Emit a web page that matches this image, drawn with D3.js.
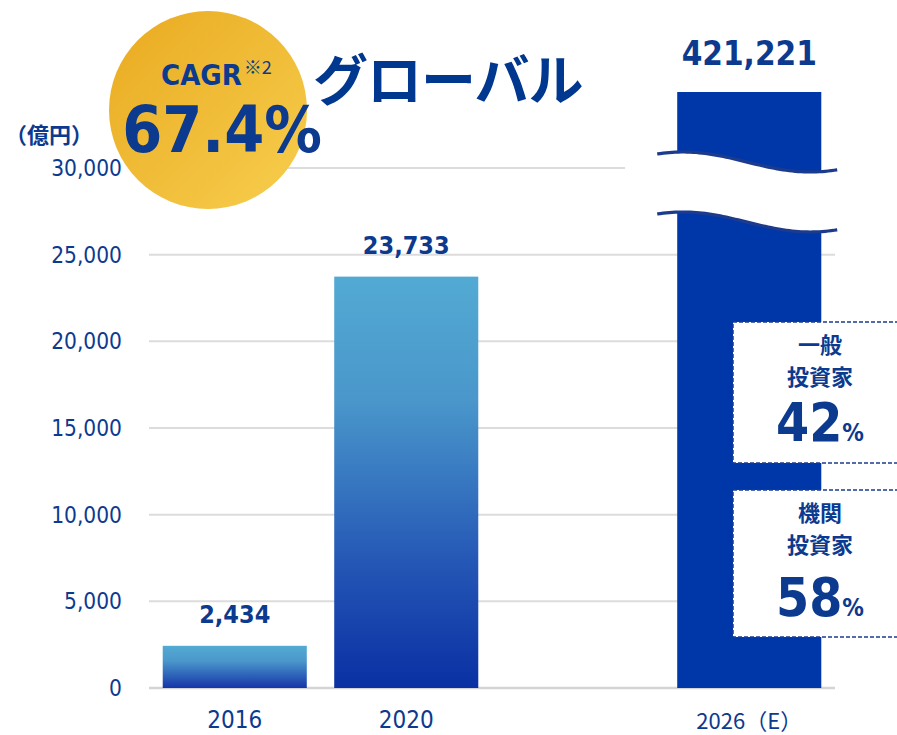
<!DOCTYPE html>
<html><head><meta charset="utf-8">
<script src="https://cdn.jsdelivr.net/npm/d3@7"></script>
<style>
html,body{margin:0;padding:0;background:#fff;}
svg{display:block;}
.num{font-family:"DejaVu Sans Condensed","DejaVu Sans",sans-serif;font-stretch:condensed;}
.jp{font-family:"Noto Sans CJK JP",sans-serif;}
</style></head>
<body>
<script>
// ---- data ----
const categories = ["2016", "2020", "", "2026（E）"];
const values = [2434, 23733, null, 421221];
const valueLabels = ["2,434", "23,733", "", "421,221"];
const yTicks = [0, 5000, 10000, 15000, 20000, 25000, 30000];
const yTickLabels = ["0", "5,000", "10,000", "15,000", "20,000", "25,000", "30,000"];
const shareLabels = [["一般", "投資家"], ["機関", "投資家"]];
const shareValues = [42, 58];
const title = "グローバル";
const cagrValue = "67.4%";
const unitLabel = "（億円）";

const W = 897, H = 735;
const navy = "#0b3a8f";
const svg = d3.select("body").append("svg").attr("width", W).attr("height", H);
const defs = svg.append("defs");

// scales
const x = d3.scaleBand().domain(categories).range([149, 835]).paddingInner(0.16).paddingOuter(0.08);
// broken axis: linear up to 30,000, compressed above the break
const y = d3.scaleLinear().domain([0, 30000, 421221]).range([688, 168, 92]);

// gradients
const g1 = defs.append("linearGradient").attr("id", "gSmall").attr("x1", 0).attr("y1", 0).attr("x2", 0).attr("y2", 1);
g1.append("stop").attr("offset", "0%").attr("stop-color", "#53aad3");
g1.append("stop").attr("offset", "35%").attr("stop-color", "#4b98cb");
g1.append("stop").attr("offset", "100%").attr("stop-color", "#1535a8");
const g2 = defs.append("linearGradient").attr("id", "gMid").attr("x1", 0).attr("y1", 0).attr("x2", 0).attr("y2", 1);
g2.append("stop").attr("offset", "0%").attr("stop-color", "#52aad3");
g2.append("stop").attr("offset", "30%").attr("stop-color", "#4a97cb");
g2.append("stop").attr("offset", "70%").attr("stop-color", "#2456b5");
g2.append("stop").attr("offset", "100%").attr("stop-color", "#0a30a3");
const gc = defs.append("linearGradient").attr("id", "gCircle").attr("x1", 0).attr("y1", 0).attr("x2", 1).attr("y2", 1);
gc.append("stop").attr("offset", "0%").attr("stop-color", "#e9aa20");
gc.append("stop").attr("offset", "100%").attr("stop-color", "#f7ce4e");

// gridlines
svg.append("g").selectAll("line").data(yTicks).join("line")
  .attr("x1", 149)
  .attr("x2", d => d === 30000 ? 625 : 835)
  .attr("y1", d => y(d)).attr("y2", d => y(d))
  .attr("stroke", d => d === 0 ? "#d4d4d4" : "#dcdcdc")
  .attr("stroke-width", d => d === 0 ? 2.5 : 2);

// y tick labels
svg.append("g").selectAll("text").data(yTicks).join("text")
  .attr("class", "num")
  .attr("x", 122).attr("y", d => y(d)).attr("dy", "0.35em")
  .attr("text-anchor", "end").attr("font-size", 22.5).attr("fill", navy)
  .text((d, i) => yTickLabels[i]);

// bars
const fills = ["url(#gSmall)", "url(#gMid)", "none", "#0037a8"];
svg.append("g").selectAll("rect").data(values.map((v, i) => ({v, i})).filter(d => d.v !== null)).join("rect")
  .attr("x", d => x(categories[d.i]))
  .attr("width", x.bandwidth())
  .attr("y", d => y(d.v))
  .attr("height", d => y(0) - y(d.v))
  .attr("fill", d => fills[d.i]);

// break on the 2026 bar
const bx = x(categories[3]);
const bx0 = bx - 20, bx1 = bx + x.bandwidth() + 17;
function wavePts(yc) {
  const pts = [];
  for (let px = bx0; px <= bx1 + 0.01; px += 3) {
    pts.push([px, yc - 10 * Math.cos(2 * Math.PI * (px - (bx + 6)) / 254)]);
  }
  return pts;
}
const topW = wavePts(162), botW = wavePts(222);
const line = d3.line().curve(d3.curveBasis);
svg.append("path")
  .attr("d", "M" + topW.map(p => p.join(",")).join("L") + "L" + botW.slice().reverse().map(p => p.join(",")).join("L") + "Z")
  .attr("fill", "#fff");
[topW, botW].forEach(w => svg.append("path").attr("d", line(w))
  .attr("fill", "none").attr("stroke", "#1c3b8d").attr("stroke-width", 3.2));

// value labels
svg.append("g").selectAll("text").data(values.map((v, i) => ({v, i})).filter(d => d.v !== null)).join("text")
  .attr("class", "num")
  .attr("x", d => x(categories[d.i]) + x.bandwidth() / 2)
  .attr("y", d => d.i === 3 ? 65 : y(d.v) - 23)
  .attr("text-anchor", "middle").attr("font-weight", "bold")
  .attr("font-size", d => d.i === 3 ? 33 : 25).attr("fill", navy)
  .text(d => valueLabels[d.i]);

// x labels
svg.append("g").selectAll("text").data(categories.filter(c => c !== "")).join("text")
  .attr("x", d => x(d) + x.bandwidth() / 2)
  .attr("y", d => d.startsWith("2026") ? 729 : 728)
  .attr("text-anchor", "middle").attr("font-size", d => d.startsWith("2026") ? 22 : 24).attr("fill", navy)
  .attr("class", d => d.startsWith("2026") ? "jp" : "num")
  .text(d => d);

// share boxes
const boxes = [{y0: 322, y1: 463}, {y0: 490, y1: 637}];
boxes.forEach((b, i) => {
  svg.append("rect").attr("x", 733).attr("y", b.y0).attr("width", 180).attr("height", b.y1 - b.y0)
    .attr("fill", "#fff").attr("stroke", "#1c3b8d").attr("stroke-width", 1.5)
    .attr("stroke-dasharray", "4,2");
  const cx = 820;
  const lbl = shareLabels[i];
  const ly = i === 0 ? [353, 385] : [521, 553];
  lbl.forEach((t, k) => svg.append("text").attr("class", "jp")
    .attr("x", cx).attr("y", ly[k]).attr("text-anchor", "middle")
    .attr("font-size", 22).attr("font-weight", "bold").attr("fill", navy).text(t));
  const t = svg.append("text").attr("class", "num")
    .attr("x", cx).attr("y", i === 0 ? 441 : 616).attr("text-anchor", "middle")
    .attr("font-weight", "bold").attr("fill", navy);
  t.append("tspan").attr("font-size", 53).text(shareValues[i]);
  t.append("tspan").attr("font-size", 24).text("%");
});

// CAGR circle
svg.append("circle").attr("cx", 208).attr("cy", 110).attr("r", 99).attr("fill", "url(#gCircle)");
const ct = svg.append("text").attr("x", 161).attr("y", 85).attr("fill", navy);
ct.append("tspan").attr("class", "num").attr("font-weight", "bold").attr("font-size", 29).text("CAGR");
ct.append("tspan").attr("class", "jp").attr("font-size", 18).attr("dy", -11).attr("dx", 2).text("※2");
svg.append("text").attr("class", "num").attr("x", 222).attr("y", 152).attr("text-anchor", "middle")
  .attr("font-weight", "bold").attr("font-size", 64).attr("fill", navy).text(cagrValue);

// unit label
svg.append("text").attr("class", "jp").attr("x", 5).attr("y", 143)
  .attr("font-size", 22).attr("font-weight", "bold").attr("fill", navy).text(unitLabel);

// title
svg.append("text").attr("class", "jp").attr("x", 313).attr("y", 100)
  .attr("font-size", 55).attr("font-weight", "bold").attr("fill", "#00378f").attr("letter-spacing", -1).text(title);
</script>
</body></html>
